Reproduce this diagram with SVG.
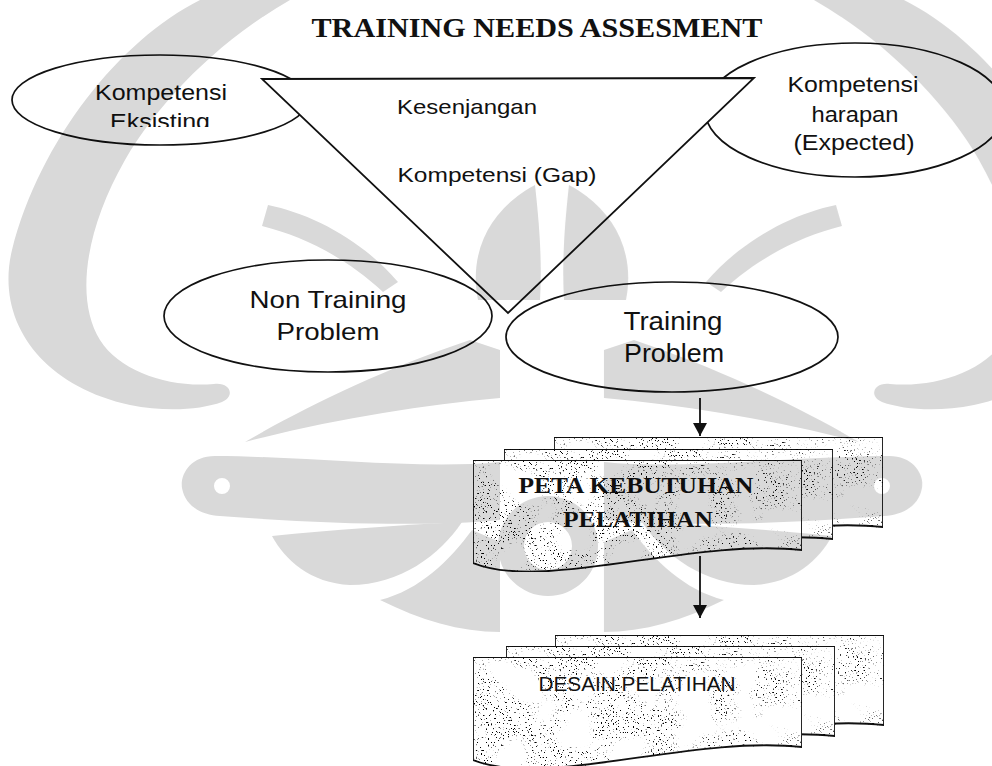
<svg xmlns="http://www.w3.org/2000/svg" width="992" height="766" viewBox="0 0 992 766">
  <defs>
    <style>
      .line { fill: none; stroke: #111; stroke-width: 1.7; }
      .solid { fill: #fff; stroke: #111; stroke-width: 1.8; }
      .lbl { font-family: "Liberation Sans", Arial, sans-serif; fill: #111; text-anchor: middle; }
      .serif { font-family: "Liberation Serif", "Times New Roman", serif; font-weight: bold; fill: #111; text-anchor: middle; }
      .conn { fill: none; stroke: #111; stroke-width: 1.8; }
    </style>
    <marker id="arrow" markerUnits="userSpaceOnUse" markerWidth="14" markerHeight="14" refX="13" refY="7" orient="auto">
      <path d="M0,0 L13,7 L0,14 Z" fill="#111"/>
    </marker>
    <clipPath id="clipEks">
      <rect x="0" y="0" width="400" height="127"/>
    </clipPath>
    <!-- document sheet, origin at its top-left corner -->
    <path id="sheet" d="M0,0 H329 V90 C217,78 72,132 0,103 Z"/>
    <!-- scanned speckle on the document sheets, clustered in patches -->
    <filter id="grain" x="0" y="0" width="100%" height="100%" color-interpolation-filters="sRGB">
      <feTurbulence type="fractalNoise" baseFrequency="0.6" numOctaves="2" seed="7" result="fine"/>
      <feTurbulence type="fractalNoise" baseFrequency="0.025" numOctaves="2" seed="3" result="coarse"/>
      <feColorMatrix in="fine" type="matrix" values="0 0 0 0 0  0 0 0 0 0  0 0 0 0 0  -14 0 0 0 4.9" result="dots"/>
      <feColorMatrix in="coarse" type="matrix" values="0 0 0 0 0  0 0 0 0 0  0 0 0 0 0  7 0 0 0 -2.9" result="patches"/>
      <feComposite in="dots" in2="patches" operator="in" result="clustered"/>
      <feComposite in="clustered" in2="SourceAlpha" operator="in" result="inside"/>
      <feMerge>
        <feMergeNode in="SourceGraphic"/>
        <feMergeNode in="inside"/>
      </feMerge>
    </filter>
    <!-- left half of the background emblem -->
    <g id="emblemHalf">
      <path d="M200,0 C120,40 40,140 12,250 C-5,320 40,385 130,405 C165,412 200,410 222,402 C236,396 230,382 214,384 C170,388 120,372 100,340 C75,300 85,230 125,160 C160,100 220,40 290,0 Z"/>
      <path d="M245,442 C300,410 380,370 470,340 L500,350 L500,398 C420,405 330,420 245,442 Z"/>
      <path fill-rule="evenodd" d="M500,462 C420,470 300,456 215,456 C190,456 180,475 182,488 C185,505 200,515 220,516 C300,522 420,528 500,520 Z M214,486 a8,8 0 1,0 16,0 a8,8 0 1,0 -16,0 Z"/>
      <path d="M272,536 C330,530 400,525 462,522 C440,555 400,585 350,585 C310,583 285,560 272,536 Z"/>
      <path d="M380,600 C420,590 450,560 472,530 L500,542 L500,632 C460,632 420,620 380,600 Z"/>
      <path d="M478,300 C468,250 492,208 535,185 C540,230 542,265 540,300 Z"/>
      <path d="M268,205 C312,214 362,240 398,282 L383,292 C344,256 302,236 262,226 Z"/>
    </g>
  </defs>

  <rect width="992" height="766" fill="#fff"/>

  <text class="serif" x="537" y="37" font-size="28" textLength="451" lengthAdjust="spacingAndGlyphs">TRAINING NEEDS ASSESMENT</text>

  <!-- competence ellipses behind the gap triangle -->
  <g id="existing">
    <ellipse class="line" cx="160" cy="100" rx="148" ry="45"/>
    <text class="lbl" x="161" y="100" font-size="22" textLength="132" lengthAdjust="spacingAndGlyphs">Kompetensi</text>
    <text class="lbl" x="160" y="129" font-size="22" textLength="100" lengthAdjust="spacingAndGlyphs" clip-path="url(#clipEks)">Eksisting</text>
  </g>

  <g id="expected">
    <ellipse class="line" cx="855" cy="110" rx="150" ry="67"/>
    <text class="lbl" x="853" y="92" font-size="22" textLength="131" lengthAdjust="spacingAndGlyphs">Kompetensi</text>
    <text class="lbl" x="855" y="122" font-size="22" textLength="87" lengthAdjust="spacingAndGlyphs">harapan</text>
    <text class="lbl" x="854" y="150" font-size="22" textLength="121" lengthAdjust="spacingAndGlyphs">(Expected)</text>
  </g>

  <g id="gap">
    <polygon class="solid" points="262,79 754,78 508,313"/>
    <text class="lbl" x="467" y="114" font-size="21" textLength="140" lengthAdjust="spacingAndGlyphs">Kesenjangan</text>
    <text class="lbl" x="497" y="182" font-size="21" textLength="199" lengthAdjust="spacingAndGlyphs">Kompetensi (Gap)</text>
  </g>

  <g id="non-training">
    <ellipse class="line" cx="328" cy="316" rx="164" ry="56"/>
    <text class="lbl" x="328" y="308" font-size="24" textLength="157" lengthAdjust="spacingAndGlyphs">Non Training</text>
    <text class="lbl" x="328" y="340" font-size="24" textLength="103" lengthAdjust="spacingAndGlyphs">Problem</text>
  </g>

  <g id="training">
    <ellipse class="line" cx="672" cy="337" rx="166" ry="55"/>
    <text class="lbl" x="673" y="330" font-size="25" textLength="99" lengthAdjust="spacingAndGlyphs">Training</text>
    <text class="lbl" x="674" y="362" font-size="25" textLength="100" lengthAdjust="spacingAndGlyphs">Problem</text>
  </g>

  <g id="connectors">
    <line class="conn" x1="700" y1="398" x2="700" y2="436" marker-end="url(#arrow)"/>
    <line class="conn" x1="700" y1="556" x2="700" y2="618" marker-end="url(#arrow)"/>
  </g>

  <g id="peta">
    <use href="#sheet" class="solid" x="554" y="437" filter="url(#grain)"/>
    <use href="#sheet" class="solid" x="504" y="449" filter="url(#grain)"/>
    <use href="#sheet" class="solid" x="473" y="460" filter="url(#grain)"/>
    <text class="serif" x="636" y="493" font-size="24" textLength="235" lengthAdjust="spacingAndGlyphs">PETA KEBUTUHAN</text>
    <text class="serif" x="638" y="527" font-size="24" textLength="150" lengthAdjust="spacingAndGlyphs">PELATIHAN</text>
  </g>

  <g id="desain">
    <use href="#sheet" class="solid" x="555" y="635" filter="url(#grain)"/>
    <use href="#sheet" class="solid" x="506" y="646" filter="url(#grain)"/>
    <use href="#sheet" class="solid" x="473" y="657" filter="url(#grain)"/>
    <text class="lbl" x="637" y="691" font-size="21" textLength="197" lengthAdjust="spacingAndGlyphs">DESAIN PELATIHAN</text>
  </g>

  <!-- faint emblem printed over the page -->
  <g id="emblem" opacity="0.15" fill="#000">
    <use href="#emblemHalf"/>
    <use href="#emblemHalf" transform="translate(1104,0) scale(-1,1)"/>
    <path fill-rule="evenodd" d="M498,546 a50,50 0 1,0 100,0 a50,50 0 1,0 -100,0 Z M524,546 a24,24 0 1,0 48,0 a24,24 0 1,0 -48,0 Z"/>
  </g>
</svg>
